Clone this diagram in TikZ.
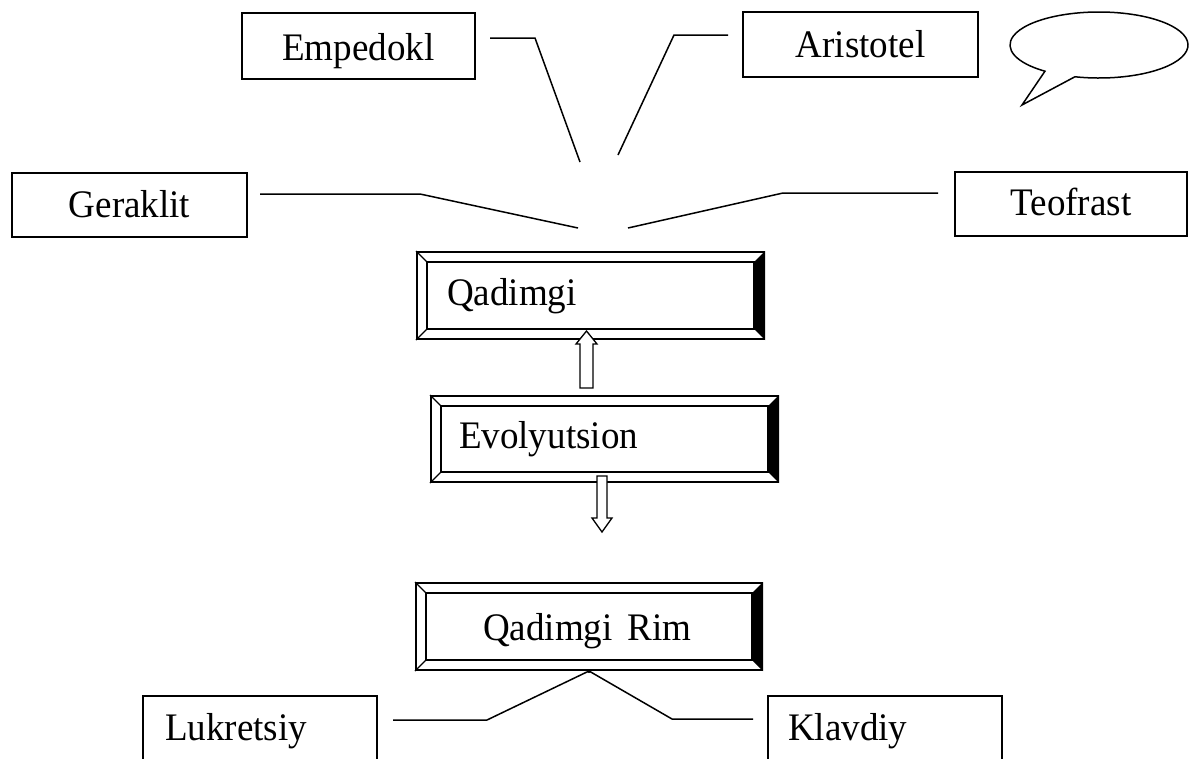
\documentclass[tikz,border=0pt]{standalone}
\usepackage{fontspec}
\setmainfont{Liberation Serif}[FakeStretch=0.95]
\usetikzlibrary{calc}
\tikzset{
  txt/.style={font=\fontsize{39}{46}\selectfont, inner ysep=0pt},
  plainbox/.style={txt, draw, line width=1.6pt, align=center},
  leftbox/.style={txt, draw, line width=1.6pt, align=left},
  bevelbox/.style={txt, draw, line width=2pt, align=left},
  conn/.style={line width=1.5pt},
  blockarrow/.style={line width=1.3pt, fill=white},
}
\newcommand\bevelframe[1]{%
  \draw[line width=1.8pt] ($(#1.north west)+(11,11)$) rectangle ($(#1.south east)+(-11,-11)$);
  \fill ($(#1.north east)$) -- ($(#1.south east)$) -- ($(#1.south east)+(-11,-11)$) -- ($(#1.north east)+(-11,11)$) -- cycle;
  \draw[line width=1.3pt] (#1.north west) -- ++(11,11) (#1.south west) -- ++(11,-11);
}
\begin{document}
\begin{tikzpicture}[x=1pt,y=-1pt]
\useasboundingbox (0,0) rectangle (1189,758);
\clip (0,0) rectangle (1189,758);
\fill[white] (0,0) rectangle (1189,758);

% plain boxes
\node[plainbox, minimum width=233pt, text height=47pt, text depth=19pt] (emp) at (358.5,46) {Empedokl};
\node[plainbox, minimum width=235pt, text height=45pt, text depth=20pt] (ari) at (860.5,44.5) {Aristotel};
\node[plainbox, minimum width=235pt, text height=44pt, text depth=20pt] (ger) at (129.5,205) {Geraklit};
\node[plainbox, minimum width=232pt, text height=43pt, text depth=21pt] (teo) at (1071,204) {Teofrast};
\node[leftbox, text width=190pt, inner xsep=22pt, text height=44pt, text depth=40pt] (luk) at (260,738) {Lukretsiy};
\node[leftbox, text width=194pt, inner xsep=20pt, text height=44pt, text depth=40pt] (kla) at (885,738) {Klavdiy};

% bevel boxes
\node[bevelbox, text width=287pt, inner xsep=30pt, text height=53pt, text depth=34pt] (qad) at (590.5,295.5) {Qadimgi};
\bevelframe{qad}
\node[bevelbox, text width=291pt, inner xsep=28pt, text height=52pt, text depth=34pt] (evo) at (604.5,439) {Evolyutsion};
\bevelframe{evo}
\node[bevelbox, text width=250pt, inner xsep=48pt, text height=57pt, text depth=30pt] (rim) at (589,626.5) {\hspace*{19pt}Qadimgi\hspace{15pt}Rim};
\bevelframe{rim}

% connectors to the top
\coordinate (e1) at (490,38); \coordinate (e2) at (535,38); \coordinate (e3) at (580,162);
\coordinate (a1) at (728,35); \coordinate (a2) at (674,35); \coordinate (a3) at (618,155);
\coordinate (g1) at (260,194); \coordinate (g2) at (420,194); \coordinate (g3) at (578,228);
\coordinate (t1) at (938,193); \coordinate (t2) at (783,193); \coordinate (t3) at (628,228);
\draw[conn] (e1) -- (e2) -- (e3);
\draw[conn] (a1) -- (a2) -- (a3);
\draw[conn] (g1) -- (g2) -- (g3);
\draw[conn] (t1) -- (t2) -- (t3);

% block arrows
\draw[blockarrow] ($(evo.north)+(-24.5,-7)$) -- ++(0,-44) -- ++(-4,0) -- ++(10.5,-13) -- ++(10.5,13) -- ++(-4,0) -- ++(0,44) -- cycle;
\draw[blockarrow] ($(evo.south)+(-7.5,-7)$) -- ++(0,42) -- ++(-5,0) -- ++(10,14) -- ++(10,-14) -- ++(-5,0) -- ++(0,-42) -- cycle;

% bottom connectors
\coordinate (l1) at (487,720); \coordinate (l2) at (393,720);
\coordinate (k1) at (672,719); \coordinate (k2) at (753,719);
\draw[conn] (rim.south) -- (l1) -- (l2);
\draw[conn] (rim.south) -- (k1) -- (k2);
\fill (rim.south) circle (2pt);

% speech bubble
\coordinate (bub) at (1099,45);
\draw[line width=1.5pt] ($(bub)+(105.7:89 and 33)$) arc[start angle=105.7, end angle=-232.6, x radius=89, y radius=33] -- (1022,105) -- cycle;
\end{tikzpicture}
\end{document}
